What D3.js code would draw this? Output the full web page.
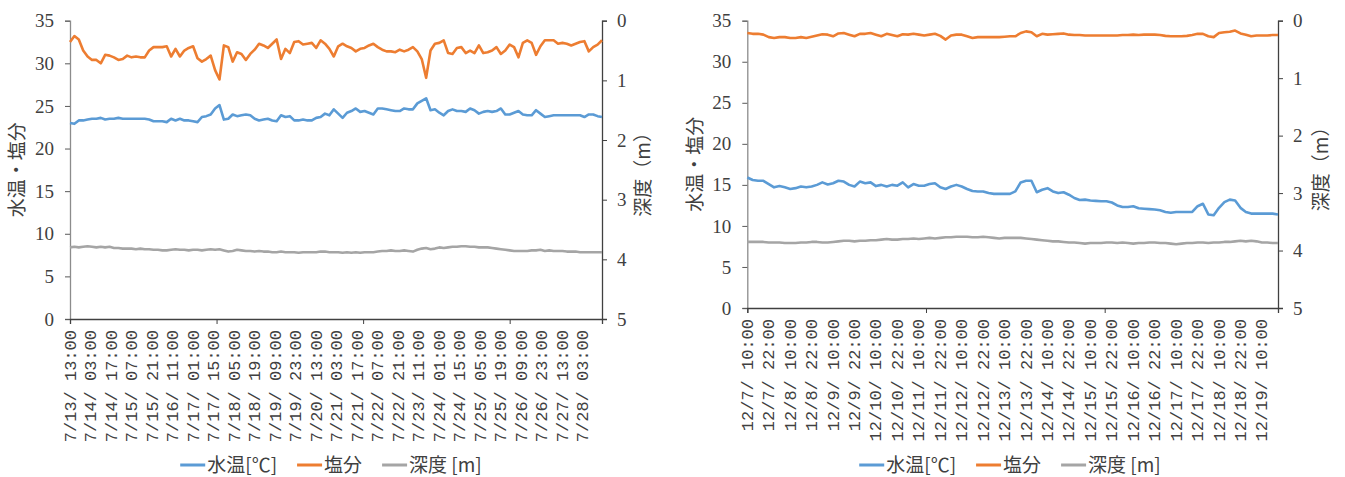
<!DOCTYPE html>
<html>
<head>
<meta charset="utf-8">
<script src="https://cdn.jsdelivr.net/npm/d3@7"></script>
<style>
  body { margin: 0; background: #fff; }
  svg { display: block; }
</style>
</head>
<body>
<svg id="chart" width="1345" height="477"></svg>
<script>
// hourly logger data, read every 3 hours
var STEP = 3;

// --- July survey ---
var julyLabels = ["7/13/ 13:00","7/14/ 03:00","7/14/ 17:00","7/15/ 07:00","7/15/ 21:00","7/16/ 11:00",
  "7/17/ 01:00","7/17/ 15:00","7/18/ 05:00","7/18/ 19:00","7/19/ 09:00","7/19/ 23:00","7/20/ 13:00",
  "7/21/ 03:00","7/21/ 17:00","7/22/ 07:00","7/22/ 21:00","7/23/ 11:00","7/24/ 01:00","7/24/ 15:00",
  "7/25/ 05:00","7/25/ 19:00","7/26/ 09:00","7/26/ 23:00","7/27/ 13:00","7/28/ 03:00"];

var julySalinity = [
  32.5,33.2,32.8,31.5,30.8,30.4,30.4,30.0,31.0,30.9,
  30.7,30.4,30.5,30.9,30.7,30.8,30.7,30.7,31.5,31.9,
  31.9,31.9,32.0,30.8,31.7,30.8,31.5,31.8,32.0,30.6,
  30.2,30.5,30.9,29.2,28.1,32.1,31.9,30.2,31.3,31.1,
  30.4,31.1,31.6,32.3,32.1,31.8,32.3,32.8,30.5,31.7,
  31.2,32.5,32.6,32.2,32.3,32.4,31.8,32.7,32.3,31.7,
  30.8,32.0,32.3,32.0,31.8,31.4,31.7,31.8,32.1,32.3,
  31.9,31.6,31.4,31.4,31.3,31.6,31.4,31.6,31.9,31.4,
  30.5,28.3,31.5,32.3,32.4,32.7,31.2,31.1,31.8,31.9,
  31.2,31.5,31.2,32.1,31.2,31.3,31.5,31.9,31.1,31.5,
  32.2,31.9,30.7,32.4,32.7,32.4,31.0,32.0,32.7,32.7,
  32.7,32.3,32.4,32.3,32.1,32.3,32.5,32.6,31.4,31.9,
  32.2,32.7];

var julyTemp = [
  23.0,22.9,23.3,23.3,23.4,23.5,23.5,23.6,23.4,23.5,
  23.5,23.6,23.5,23.5,23.5,23.5,23.5,23.5,23.4,23.2,
  23.2,23.2,23.1,23.5,23.3,23.5,23.3,23.3,23.2,23.1,
  23.7,23.8,24.0,24.7,25.1,23.4,23.5,24.0,23.8,23.9,
  24.0,23.9,23.5,23.3,23.4,23.5,23.3,23.2,23.9,23.7,
  23.8,23.3,23.3,23.4,23.3,23.3,23.6,23.7,24.1,23.9,
  24.6,24.1,23.6,24.2,24.4,24.7,24.3,24.4,24.2,24.0,
  24.7,24.7,24.6,24.5,24.4,24.4,24.7,24.6,24.6,25.3,
  25.6,25.9,24.5,24.6,24.2,23.9,24.4,24.6,24.4,24.4,
  24.3,24.7,24.5,24.1,24.3,24.4,24.3,24.4,24.7,24.0,
  24.0,24.2,24.4,24.0,23.9,23.9,24.5,24.1,23.7,23.8,
  23.9,23.9,23.9,23.9,23.9,23.9,23.9,23.7,24.0,24.0,
  23.8,23.7];

var julyDepth = [
  3.80,3.79,3.80,3.79,3.78,3.79,3.80,3.79,3.80,3.79,
  3.81,3.81,3.82,3.82,3.82,3.83,3.82,3.83,3.83,3.84,
  3.84,3.85,3.85,3.84,3.83,3.84,3.84,3.85,3.84,3.84,
  3.85,3.84,3.83,3.84,3.83,3.85,3.87,3.86,3.84,3.85,
  3.86,3.86,3.87,3.86,3.87,3.87,3.88,3.88,3.87,3.88,
  3.88,3.88,3.89,3.88,3.88,3.88,3.88,3.87,3.87,3.88,3.88,
  3.88,3.89,3.88,3.89,3.88,3.89,3.88,3.88,3.88,3.87,
  3.86,3.86,3.85,3.86,3.86,3.85,3.86,3.87,3.84,3.82,
  3.81,3.83,3.82,3.80,3.81,3.80,3.79,3.79,3.78,3.78,
  3.79,3.79,3.80,3.80,3.80,3.81,3.82,3.83,3.84,3.85,
  3.86,3.86,3.86,3.86,3.85,3.85,3.84,3.86,3.85,3.86,
  3.86,3.86,3.87,3.87,3.87,3.88,3.88,3.88,3.88,3.88,3.88];

// --- December survey ---
var decLabels = ["12/7/ 10:00","12/7/ 22:00","12/8/ 10:00","12/8/ 22:00","12/9/ 10:00","12/9/ 22:00",
  "12/10/ 10:00","12/10/ 22:00","12/11/ 10:00","12/11/ 22:00","12/12/ 10:00","12/12/ 22:00",
  "12/13/ 10:00","12/13/ 22:00","12/14/ 10:00","12/14/ 22:00","12/15/ 10:00","12/15/ 22:00",
  "12/16/ 10:00","12/16/ 22:00","12/17/ 10:00","12/17/ 22:00","12/18/ 10:00","12/18/ 22:00",
  "12/19/ 10:00"];

var decSalinity = [
  33.5,33.4,33.4,33.3,33.0,32.9,33.0,33.0,32.9,32.9,
  33.0,32.9,33.05,33.2,33.35,33.3,33.1,33.45,33.5,33.3,
  33.1,33.4,33.4,33.5,33.3,33.1,33.4,33.25,33.1,33.35,
  33.3,33.4,33.3,33.2,33.3,33.4,33.15,32.7,33.2,33.3,
  33.3,33.1,32.9,33.0,33.0,33.0,33.0,33.0,33.05,33.1,
  33.1,33.5,33.7,33.6,33.1,33.4,33.3,33.35,33.4,33.45,
  33.3,33.25,33.25,33.2,33.2,33.2,33.2,33.2,33.2,33.2,
  33.25,33.25,33.3,33.25,33.3,33.3,33.3,33.25,33.15,33.1,
  33.1,33.1,33.15,33.25,33.4,33.4,33.1,33.0,33.5,33.6,
  33.65,33.8,33.45,33.3,33.1,33.2,33.2,33.2,33.25,33.25];

var decTemp = [
  15.9,15.6,15.5,15.5,15.1,14.7,14.85,14.7,14.5,14.6,
  14.8,14.7,14.8,15.0,15.3,15.05,15.2,15.5,15.4,15.0,
  14.8,15.4,15.2,15.3,14.85,15.0,14.8,15.0,14.9,15.3,
  14.7,15.1,14.9,14.9,15.1,15.2,14.7,14.5,14.8,15.0,
  14.8,14.5,14.25,14.2,14.2,14.0,13.9,13.9,13.9,13.9,
  14.2,15.3,15.5,15.5,14.1,14.4,14.6,14.2,14.0,14.1,
  13.8,13.4,13.15,13.2,13.1,13.05,13.0,13.0,12.85,12.5,
  12.3,12.3,12.4,12.15,12.1,12.05,12.0,11.9,11.7,11.6,
  11.7,11.7,11.7,11.7,12.4,12.7,11.4,11.3,12.2,12.9,
  13.2,13.1,12.2,11.7,11.5,11.5,11.5,11.5,11.5,11.4];

var decDepth = [
  3.85,3.85,3.85,3.85,3.86,3.86,3.86,3.87,3.87,3.87,
  3.86,3.86,3.85,3.85,3.86,3.86,3.85,3.84,3.83,3.83,
  3.84,3.83,3.83,3.82,3.82,3.81,3.80,3.81,3.81,3.80,
  3.80,3.79,3.80,3.79,3.78,3.79,3.78,3.77,3.77,3.76,
  3.76,3.76,3.77,3.77,3.76,3.77,3.78,3.79,3.78,3.78,
  3.78,3.78,3.79,3.80,3.81,3.82,3.83,3.84,3.84,3.85,
  3.86,3.86,3.87,3.88,3.87,3.87,3.87,3.86,3.86,3.87,
  3.86,3.87,3.88,3.87,3.87,3.86,3.86,3.87,3.87,3.88,
  3.89,3.88,3.87,3.87,3.86,3.86,3.87,3.86,3.86,3.85,
  3.85,3.84,3.83,3.84,3.83,3.84,3.86,3.86,3.87,3.87];

var leftTicks = [0,5,10,15,20,25,30,35];
var rightTicks = [0,1,2,3,4,5];
var legendNames = ["水温[℃]","塩分","深度 [m]"];
var colors = ["#5b9bd5","#ed7d31","#a5a5a5"];

var svg = d3.select("#chart");
var mono = "Liberation Mono, monospace";
var serif = "Liberation Serif, DejaVu Serif, serif";
var cjk = "Noto Sans CJK JP, sans-serif";

function drawChart(o){
	var hours = (o.temp.length - 1) * STEP;

	var x = d3.scaleLinear().domain([0, hours]).range([o.left, o.right]);
	var y = d3.scaleLinear().domain([0, 35]).range([o.bottom, o.top]);
	var yd = d3.scaleLinear().domain([0, 5]).range([o.top, o.bottom]);

	var g = svg.append("g");

	// left axis
	var ax = g.append("g")
		.attr("transform", "translate(" + o.left + ",0)")
		.call(d3.axisLeft(y).tickValues(leftTicks).tickSize(5).tickPadding(11).tickFormat(d3.format("d")));
	ax.attr("font-family", serif).attr("font-size", 19);
	ax.select(".domain").attr("stroke", "#8c8c8c").attr("stroke-width", 1.3);
	ax.selectAll(".tick line").attr("stroke", "#595959");
	ax.selectAll(".tick text").style("font-family", serif).style("font-size", "19px").attr("fill", "#404040");

	// right axis (depth, inverted)
	var ar = g.append("g")
		.attr("transform", "translate(" + o.right + ",0)")
		.call(d3.axisRight(yd).tickValues(rightTicks).tickSize(5).tickPadding(10).tickFormat(d3.format("d")));
	ar.attr("font-family", serif).attr("font-size", 19);
	ar.select(".domain").attr("stroke", "#404040").attr("stroke-width", 1.3);
	ar.selectAll(".tick line").attr("stroke", "#404040");
	ar.selectAll(".tick text").style("font-family", serif).style("font-size", "19px").attr("fill", "#404040");

	// bottom axis, tick mark every 100 points
	var ab = g.append("g")
		.attr("transform", "translate(0," + o.bottom + ")")
		.call(d3.axisBottom(x).tickValues(d3.range(0, hours + 1, 100)).tickSize(5).tickFormat(""));
	ab.select(".domain").attr("stroke", "#404040").attr("stroke-width", 1.3);
	ab.selectAll(".tick line").attr("stroke", "#404040");

	// category labels
	g.selectAll(".xlab")
		.data(o.labels)
		.enter()
		.append("text")
			.attr("class", "xlab")
			.attr("transform", function(d, i){
				return "translate(" + (x(i * o.labelEvery) + 5.5) + "," + (o.bottom + 11) + ") rotate(-90)";
			})
			.attr("text-anchor", "end")
			.style("font-family", mono)
			.style("font-size", "17px")
			.attr("fill", "#404040")
			.text(function(d){ return d; });

	// series
	var series = [
		{ vals: o.temp, sc: y, c: colors[0] },
		{ vals: o.sal, sc: y, c: colors[1] },
		{ vals: o.depth, sc: yd, c: colors[2] }
	];
	series.forEach(function(s){
		var line = d3.line()
			.x(function(d, i){ return x(i * STEP); })
			.y(function(d){ return s.sc(d); });
		g.append("path")
			.datum(s.vals)
			.attr("d", line)
			.attr("fill", "none")
			.attr("stroke", s.c)
			.attr("stroke-width", 2.6)
			.attr("stroke-linejoin", "round");
	});

	// axis titles
	var mid = (o.top + o.bottom) / 2;
	g.append("text")
		.attr("transform", "translate(" + o.ltitle + "," + mid + ") rotate(-90)")
		.attr("text-anchor", "middle")
		.style("font-family", cjk).style("font-size", "19px").attr("fill", "#404040")
		.text("水温・塩分");
	g.append("text")
		.attr("transform", "translate(" + o.rtitle + "," + mid + ") rotate(-90)")
		.attr("text-anchor", "middle")
		.style("font-family", cjk).style("font-size", "19px").attr("fill", "#404040")
		.text("深度（m）");

	// legend
	var lg = g.append("g").attr("transform", "translate(0,465)");
	var items = lg.selectAll("g").data(legendNames).enter().append("g");
	items.append("line")
		.attr("x1", 0).attr("x2", 25)
		.attr("stroke", function(d, i){ return colors[i]; })
		.attr("stroke-width", 3);
	items.append("text")
		.attr("x", 27).attr("y", 7)
		.style("font-family", cjk).style("font-size", "19px").attr("fill", "#404040")
		.text(function(d){ return d; });
	var widths = [];
	items.each(function(){ widths.push(this.getBBox().width); });
	var total = d3.sum(widths) + 20 * (widths.length - 1);
	var pos = o.legendCenter - total / 2;
	items.attr("transform", function(d, i){
		var p = pos;
		pos += widths[i] + 20;
		return "translate(" + p + ",0)";
	});
}

drawChart({
	left: 70, right: 602, top: 20.7, bottom: 319,
	labels: julyLabels, labelEvery: 14,
	temp: julyTemp, sal: julySalinity, depth: julyDepth,
	ltitle: 24, rtitle: 650, legendCenter: 331
});

drawChart({
	left: 747.3, right: 1278, top: 20.7, bottom: 308,
	labels: decLabels, labelEvery: 12,
	temp: decTemp, sal: decSalinity, depth: decDepth,
	ltitle: 702, rtitle: 1328, legendCenter: 1010
});
</script>
</body>
</html>
